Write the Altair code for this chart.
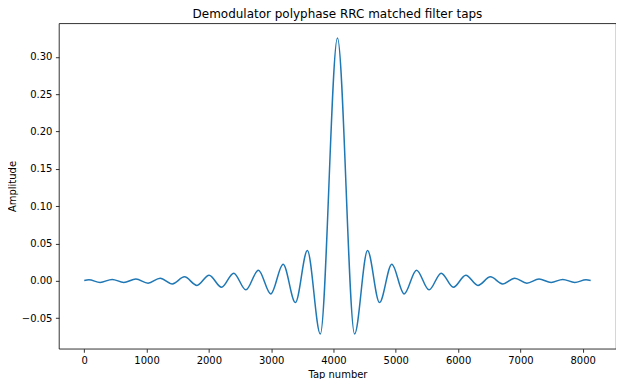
import altair as alt
import pandas as pd

# Tap positions (extrema of the RRC taps, plus the end points)
taps = [0, 75, 255, 449, 634, 829, 1024, 1219, 1414, 1609, 1809, 2004, 2204, 2399,
        2594, 2795, 2994, 3192, 3389, 3581, 3789,
        4064,
        4339, 4547, 4739, 4936, 5134, 5333, 5534, 5729, 5924, 6124, 6319, 6519, 6714,
        6909, 7104, 7299, 7494, 7679, 7873, 8053, 8128]

# Amplitudes at those taps
amps = [0.0005, 0.0015, -0.002, 0.002, -0.002, 0.0025, -0.003, 0.0035, -0.004, 0.0054,
        -0.006, 0.0076, -0.0085, 0.0103, -0.012, 0.0143, -0.0174, 0.0223, -0.029, 0.0406,
        -0.071,
        0.325,
        -0.071, 0.0406, -0.029, 0.0223, -0.0174, 0.0143, -0.012, 0.0103, -0.0085, 0.0076,
        -0.006, 0.0054, -0.004, 0.0035, -0.003, 0.0025, -0.002, 0.002, -0.002, 0.0015,
        0.0005]

x_ticks = [0, 1000, 2000, 3000, 4000, 5000, 6000, 7000, 8000]
y_ticks = [-0.05, 0.0, 0.05, 0.10, 0.15, 0.20, 0.25, 0.30]

df = pd.DataFrame({"tap": taps, "amp": amps})

FONT = "DejaVu Sans"

chart = (
    alt.Chart(df)
    .mark_line(color="#1f77b4", strokeWidth=1.5, interpolate="monotone", clip=True)
    .encode(
        x=alt.X(
            "tap:Q",
            scale=alt.Scale(domain=[-406.4, 8534.4], nice=False, zero=False),
            axis=alt.Axis(title="Tap number", values=x_ticks, format="d"),
        ),
        y=alt.Y(
            "amp:Q",
            scale=alt.Scale(domain=[-0.0908, 0.3448], nice=False, zero=False),
            axis=alt.Axis(title="Amplitude", values=y_ticks, format=".2f"),
        ),
    )
    .properties(
        width=558,
        height=326,
        title=alt.TitleParams(
            "Demodulator polyphase RRC matched filter taps",
            font=FONT,
            fontSize=12,
            fontWeight="normal",
            color="black",
            anchor="middle",
            offset=2,
        ),
        autosize=alt.AutoSizeParams(type="none"),
        padding={"left": 51, "top": 15, "right": 0, "bottom": 30},
    )
    .configure_view(stroke="black", strokeWidth=0.8)
    .configure_axis(
        labelFont=FONT,
        labelFontSize=10,
        labelColor="black",
        titleFont=FONT,
        titleFontSize=10,
        titleFontWeight="normal",
        titleColor="black",
        tickColor="black",
        tickWidth=0.8,
        tickSize=3.5,
        labelPadding=3.5,
        domain=False,
        grid=False,
    )
    .configure_axisX(titlePadding=4)
    .configure_axisY(titlePadding=4)
)

chart.save("out.html", embed_options={"renderer": "svg", "actions": False})
